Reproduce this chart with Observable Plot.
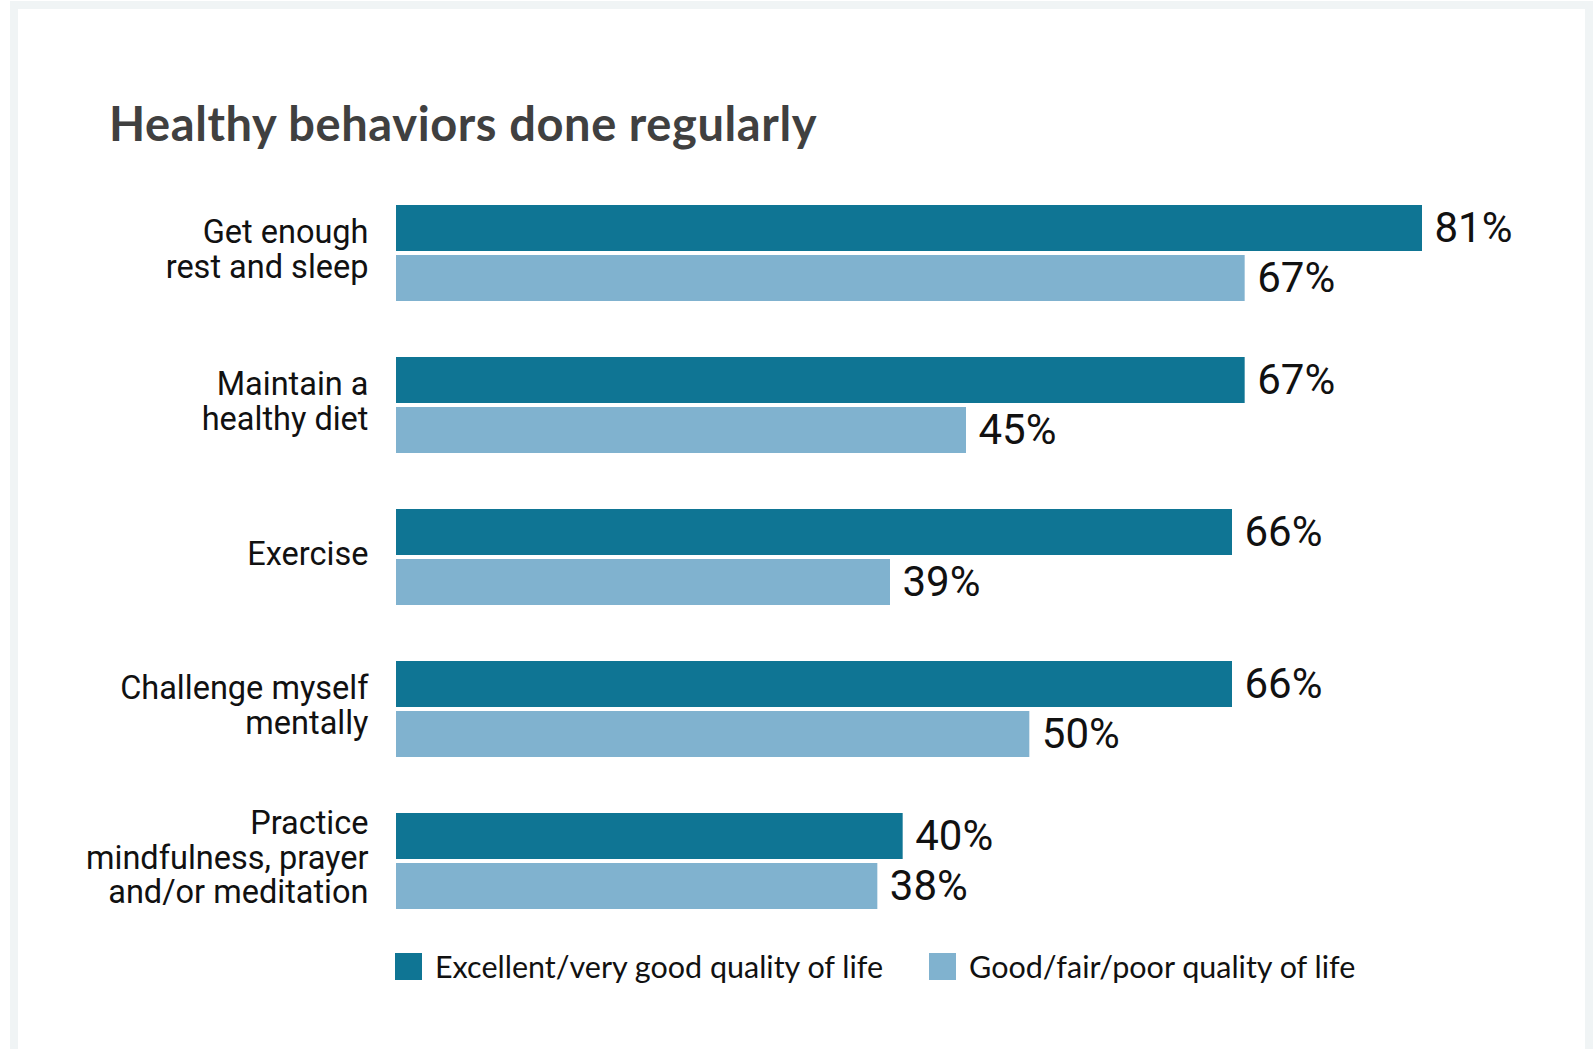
<!DOCTYPE html>
<html>
<head>
<meta charset="utf-8">
<script src="https://cdn.jsdelivr.net/npm/d3@7"></script>
<script src="https://cdn.jsdelivr.net/npm/@observablehq/plot@0.6"></script>
<style>
  html, body { margin: 0; padding: 0; background: #ffffff; }
  body { width: 1595px; height: 1049px; position: relative; overflow: hidden; }
  #frame {
    position: absolute; left: 10px; top: 1px; width: 1583px; height: 1100px;
    box-sizing: border-box; border-left: 8px solid #f0f4f5; border-right: 8px solid #f0f4f5;
    border-top: 8px solid #f0f4f5; background: #ffffff; z-index: 0;
  }
  #content { position: relative; z-index: 1; }
  #title {
    height: 180px; box-sizing: border-box; padding-top: 100px; padding-left: 109px;
    font-family: Lato, sans-serif; font-weight: 700; font-size: 47px; letter-spacing: 0.6px; line-height: 1;
    color: #404040; margin: 0;
  }
  #chart svg { display: block; }
  #legend {
    display: flex; align-items: center; margin-top: 8px; padding-left: 395px;
    font-family: Lato, sans-serif; font-size: 30.5px; color: #111;
  }
  .item { display: flex; align-items: center; }
  .item + .item { margin-left: 46px; }
  .sw { width: 27px; height: 27px; margin-right: 13px; }
</style>
</head>
<body>
<div id="frame"></div>
<div id="content">
  <div id="title">Healthy behaviors done regularly</div>
  <div id="chart"></div>
  <div id="legend"></div>
</div>
<script>
const categories = [
  "Get enough\nrest and sleep",
  "Maintain a\nhealthy diet",
  "Exercise",
  "Challenge myself\nmentally",
  "Practice\nmindfulness, prayer\nand/or meditation"
];
const series = ["Excellent/very good quality of life", "Good/fair/poor quality of life"];
const excellentValues = [81, 67, 66, 66, 40];
const goodFairPoorValues = [67, 45, 39, 50, 38];
const seriesColors = ["#0f7594", "#80b2cf"];

const data = categories.flatMap((c, i) => [
  {category: c, series: series[0], value: excellentValues[i]},
  {category: c, series: series[1], value: goodFairPoorValues[i]}
]);

const chart = Plot.plot({
  width: 1595,
  height: 760,
  marginLeft: 396,
  marginRight: 59,
  marginTop: 23,
  marginBottom: 29,
  style: {fontFamily: "Roboto, sans-serif", background: "transparent"},
  x: {domain: [0, 90], axis: null},
  y: {domain: series, axis: null, paddingInner: 0.08, paddingOuter: 0},
  fy: {domain: categories, paddingInner: 0.3684, paddingOuter: 0, label: null},
  color: {domain: series, range: seriesColors},
  marks: [
    Plot.barX(data, {fy: "category", y: "series", x: "value", fill: "series"}),
    Plot.text(data, {
      fy: "category", y: "series", x: "value",
      text: d => d.value + "%", textAnchor: "start", dx: 12,
      fontSize: 42, fill: "#111"
    }),
    Plot.axisFy({anchor: "left", tickSize: 0, tickPadding: 28, fontSize: 32.5, lineHeight: 1.06, dy: -4, label: null, fill: "#111"})
  ]
});
document.getElementById("chart").appendChild(chart);

const legend = d3.select("#legend");
series.forEach((s, i) => {
  const item = legend.append("div").attr("class", "item");
  item.append("div").attr("class", "sw").style("background", seriesColors[i]);
  item.append("span").text(s);
});
</script>
</body>
</html>
